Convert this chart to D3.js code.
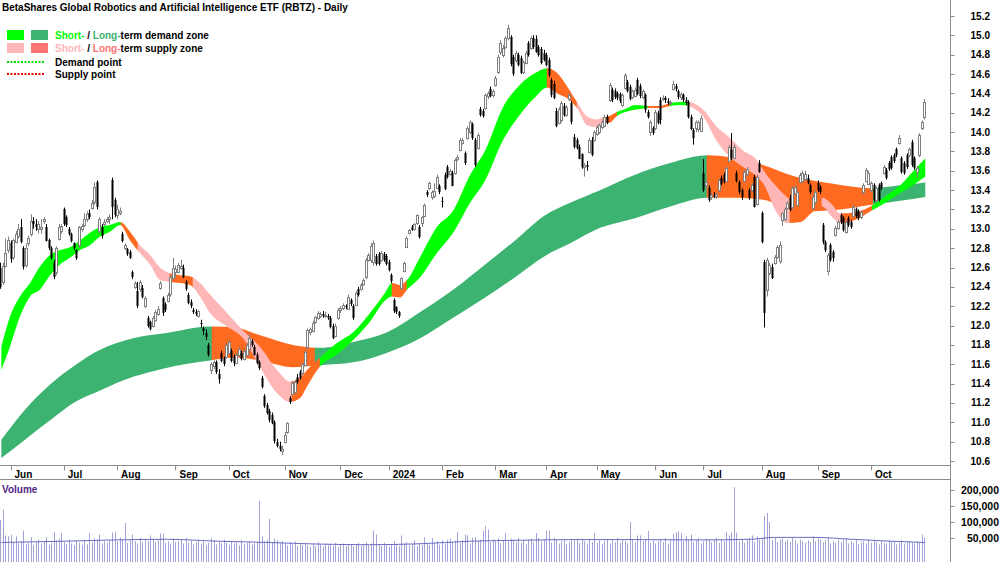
<!DOCTYPE html>
<html>
<head>
<meta charset="utf-8">
<title>RBTZ - Daily</title>
<script src="https://cdn.jsdelivr.net/npm/d3@7"></script>
<style>
  body { margin: 0; background: #fff; }
  svg text { font-family: "Liberation Sans", Arial, sans-serif; }
</style>
</head>
<body>
<div id="chart"></div>
<script>
// ---- data ----
// trading calendar (ASX)
const firstDay = "2023-05-26";
const asxHolidays = ["2023-06-12", "2023-12-25", "2023-12-26", "2024-01-01", "2024-01-26",
  "2024-03-29", "2024-04-01", "2024-04-25", "2024-06-10"];

// daily candles [open, high, low, close]
const candles = [
  [12.60,12.65,12.38,12.40],[12.45,12.65,12.42,12.62],[12.62,12.90,12.60,12.75],[12.78,12.92,12.75,12.88],[12.85,12.88,12.65,12.68],
  [12.70,12.90,12.68,12.88],[12.87,12.98,12.85,12.95],[12.93,13.05,12.90,13.00],[13.02,13.10,12.85,12.87],[12.80,12.82,12.58,12.60],
  [12.62,12.85,12.60,12.80],[12.85,12.93,12.82,12.90],[12.95,13.15,12.92,13.08],[13.08,13.12,13.00,13.05],[13.05,13.10,12.98,13.02],
  [13.00,13.08,12.95,13.05],[13.00,13.10,12.95,13.02],[13.08,13.12,13.05,13.10],[13.02,13.05,12.87,12.88],[12.88,12.90,12.78,12.80],
  [12.80,12.82,12.68,12.70],[12.66,12.68,12.48,12.50],[12.55,12.82,12.52,12.80],[12.90,13.05,12.88,13.02],[12.98,13.05,12.95,13.03],
  [13.20,13.22,13.03,13.05],[13.12,13.14,13.02,13.04],[13.00,13.02,12.93,12.95],[12.95,12.96,12.86,12.88],[12.85,12.86,12.78,12.80],
  [12.78,12.79,12.68,12.70],[12.83,13.03,12.80,13.02],[13.00,13.05,12.97,13.03],[13.04,13.16,13.02,13.10],[13.10,13.18,13.07,13.15],
  [13.16,13.20,13.10,13.12],[13.22,13.30,13.20,13.27],[13.27,13.48,13.25,13.43],[13.48,13.50,13.20,13.22],[12.98,13.12,12.95,13.10],
  [13.02,13.05,12.90,12.93],[13.05,13.10,13.03,13.07],[13.08,13.12,13.06,13.10],[13.10,13.15,13.05,13.12],[13.50,13.53,13.10,13.22],
  [13.30,13.32,13.12,13.15],[13.14,13.25,13.10,13.20],[13.16,13.22,13.14,13.18],[12.95,12.97,12.86,12.88],[12.80,12.85,12.78,12.83],
  [12.79,12.80,12.72,12.74],[12.76,12.78,12.69,12.70],[12.55,12.57,12.48,12.50],[12.40,12.46,12.38,12.44],[12.36,12.45,12.18,12.20],
  [12.38,12.47,12.35,12.45],[12.39,12.42,12.28,12.30],[12.20,12.30,12.18,12.28],[12.08,12.10,11.98,12.00],[12.04,12.05,11.95,11.97],
  [12.00,12.10,11.98,12.08],[12.06,12.16,12.04,12.14],[12.12,12.20,12.10,12.17],[12.39,12.46,12.37,12.44],[12.28,12.30,12.10,12.12],
  [12.22,12.24,12.14,12.16],[12.26,12.34,12.24,12.32],[12.32,12.52,12.30,12.50],[12.50,12.70,12.48,12.60],[12.55,12.62,12.50,12.58],
  [12.56,12.65,12.54,12.63],[12.60,12.68,12.58,12.62],[12.60,12.63,12.49,12.51],[12.45,12.47,12.36,12.38],[12.32,12.34,12.22,12.24],
  [12.24,12.27,12.18,12.20],[12.16,12.18,12.12,12.14],[12.14,12.17,12.10,12.12],[12.10,12.16,12.08,12.15],[12.03,12.06,11.98,12.02],
  [11.97,11.99,11.90,11.94],[11.92,11.96,11.85,11.88],[11.80,11.82,11.68,11.70],[11.54,11.62,11.50,11.60],[11.58,11.64,11.55,11.62],
  [11.62,11.64,11.50,11.52],[11.50,11.55,11.40,11.45],[11.72,11.74,11.62,11.64],[11.66,11.68,11.58,11.60],[11.68,11.82,11.66,11.80],
  [11.72,11.85,11.70,11.83],[11.74,11.76,11.62,11.64],[11.67,11.70,11.58,11.61],[11.62,11.72,11.60,11.70],[11.70,11.78,11.68,11.76],
  [11.72,11.74,11.64,11.66],[11.66,11.76,11.64,11.74],[11.70,11.82,11.68,11.80],[11.76,11.92,11.74,11.87],[11.84,11.86,11.78,11.80],
  [11.78,11.80,11.69,11.70],[11.70,11.72,11.60,11.62],[11.62,11.64,11.54,11.56],[11.46,11.48,11.35,11.37],[11.27,11.29,11.15,11.17],
  [11.18,11.20,11.08,11.10],[11.12,11.14,11.00,11.03],[11.08,11.10,10.98,11.00],[11.00,11.02,10.78,10.80],[10.80,10.83,10.74,10.76],
  [10.76,10.80,10.70,10.73],[10.70,10.76,10.66,10.72],[10.80,10.90,10.78,10.87],[10.90,11.00,10.88,10.99],[11.25,11.27,11.19,11.21],
  [11.30,11.43,11.28,11.41],[11.32,11.44,11.30,11.42],[11.47,11.50,11.40,11.42],[11.52,11.54,11.44,11.46],[11.51,11.62,11.49,11.60],
  [11.60,11.75,11.58,11.73],[11.77,11.97,11.75,11.95],[11.93,11.98,11.90,11.96],[11.95,12.05,11.93,12.03],[12.04,12.10,12.02,12.09],
  [12.08,12.15,12.06,12.13],[12.10,12.14,12.08,12.12],[12.12,12.15,12.08,12.10],[12.10,12.14,12.08,12.11],[12.10,12.12,12.06,12.08],
  [12.08,12.10,11.97,11.99],[12.00,12.02,11.86,11.88],[11.90,12.02,11.88,12.00],[12.08,12.18,12.06,12.16],[12.16,12.20,12.13,12.18],
  [12.18,12.23,12.16,12.21],[12.20,12.22,12.17,12.19],[12.18,12.32,12.16,12.30],[12.26,12.28,12.20,12.22],[12.20,12.22,12.06,12.08],
  [12.22,12.36,12.20,12.34],[12.38,12.40,12.30,12.32],[12.38,12.44,12.36,12.42],[12.43,12.49,12.41,12.47],[12.50,12.70,12.48,12.68],
  [12.68,12.75,12.66,12.73],[12.68,12.85,12.65,12.82],[12.65,12.88,12.62,12.85],[12.72,12.74,12.62,12.64],[12.74,12.76,12.62,12.64],
  [12.68,12.77,12.66,12.75],[12.74,12.76,12.66,12.68],[12.72,12.74,12.62,12.64],[12.66,12.68,12.56,12.58],[12.52,12.54,12.44,12.46],
  [12.26,12.28,12.13,12.15],[12.19,12.20,12.12,12.14],[12.14,12.15,12.08,12.10],[12.39,12.50,12.37,12.49],[12.57,12.66,12.55,12.65],
  [12.81,12.92,12.80,12.90],[12.96,13.00,12.94,12.99],[13.02,13.04,12.98,12.99],[13.00,13.06,12.98,13.05],[13.06,13.15,13.04,13.14],
  [13.02,13.04,12.90,12.92],[13.06,13.13,13.02,13.12],[13.14,13.26,13.12,13.25],[13.38,13.40,13.33,13.35],[13.42,13.49,13.40,13.47],
  [13.33,13.40,13.30,13.38],[13.34,13.47,13.32,13.39],[13.43,13.56,13.41,13.54],[13.44,13.46,13.36,13.38],[13.29,13.33,13.22,13.28],
  [13.56,13.58,13.40,13.42],[13.64,13.66,13.52,13.54],[13.57,13.62,13.55,13.60],[13.58,13.60,13.44,13.45],[13.58,13.73,13.56,13.71],
  [13.72,13.76,13.70,13.74],[13.82,13.94,13.80,13.92],[13.89,13.94,13.87,13.92],[13.78,13.80,13.66,13.68],[13.94,14.06,13.92,14.04],
  [14.00,14.12,13.98,14.10],[14.08,14.10,13.92,13.94],[13.92,13.94,13.64,13.66],[13.84,13.99,13.82,13.97],[14.24,14.26,14.16,14.18],
  [14.22,14.24,14.15,14.17],[14.25,14.40,14.23,14.38],[14.37,14.42,14.34,14.40],[14.45,14.47,14.36,14.38],[14.38,14.44,14.36,14.42],
  [14.49,14.58,14.47,14.56],[14.62,14.80,14.60,14.78],[14.83,14.95,14.80,14.92],[14.80,14.90,14.77,14.87],[14.88,14.99,14.86,14.97],
  [14.98,15.11,14.95,15.08],[14.98,15.00,14.68,14.70],[14.78,14.80,14.58,14.60],[14.75,14.84,14.72,14.82],[14.80,14.82,14.68,14.70],
  [14.77,14.79,14.60,14.61],[14.62,14.74,14.60,14.72],[14.72,14.84,14.70,14.82],[14.92,14.94,14.78,14.80],[14.87,14.99,14.85,14.97],
  [14.97,15.00,14.86,14.88],[14.96,15.00,14.82,14.83],[14.88,14.90,14.78,14.80],[14.86,14.88,14.70,14.72],[14.82,14.85,14.73,14.75],
  [14.80,14.82,14.68,14.70],[14.75,14.77,14.57,14.59],[14.54,14.56,14.36,14.38],[14.50,14.53,14.34,14.36],[14.22,14.25,14.05,14.07],
  [14.10,14.26,14.08,14.24],[14.12,14.32,14.10,14.30],[14.27,14.30,14.16,14.18],[14.18,14.28,14.16,14.26],[14.34,14.40,14.32,14.38],
  [14.30,14.32,14.08,14.10],[13.95,13.98,13.83,13.85],[13.92,13.94,13.82,13.84],[13.85,13.87,13.72,13.73],[13.77,13.78,13.62,13.64],
  [13.64,13.68,13.54,13.66],[13.66,13.70,13.60,13.64],[13.80,13.94,13.78,13.92],[13.92,13.95,13.75,13.77],[13.92,14.02,13.90,14.00],
  [13.98,14.07,13.96,14.05],[14.00,14.09,13.98,14.07],[14.05,14.12,14.03,14.10],[14.07,14.18,14.05,14.16],[14.16,14.18,14.08,14.10],
  [14.33,14.51,14.31,14.49],[14.43,14.46,14.31,14.33],[14.42,14.45,14.34,14.36],[14.40,14.42,14.33,14.35],[14.39,14.41,14.30,14.32],
  [14.28,14.40,14.26,14.38],[14.46,14.61,14.44,14.59],[14.52,14.54,14.41,14.43],[14.47,14.49,14.33,14.35],[14.36,14.44,14.34,14.42],
  [14.38,14.46,14.36,14.44],[14.54,14.56,14.38,14.40],[14.48,14.50,14.35,14.38],[14.36,14.44,14.34,14.42],[14.38,14.40,14.20,14.22],
  [14.21,14.23,14.14,14.16],[14.00,14.12,13.96,14.10],[14.04,14.06,13.97,13.99],[14.04,14.23,14.02,14.21],[14.20,14.22,14.08,14.10],
  [14.33,14.36,14.08,14.12],[14.34,14.38,14.32,14.35],[14.35,14.37,14.30,14.33],[14.32,14.35,14.28,14.30],[14.30,14.33,14.28,14.31],
  [14.45,14.53,14.43,14.50],[14.48,14.50,14.42,14.45],[14.42,14.44,14.34,14.36],[14.36,14.41,14.33,14.39],[14.38,14.40,14.31,14.33],
  [14.33,14.36,14.28,14.30],[14.31,14.33,14.14,14.16],[14.16,14.18,14.02,14.04],[14.02,14.04,13.87,13.94],[14.04,14.12,14.00,14.10],
  [14.03,14.12,14.00,14.10],[14.02,14.17,14.00,14.15],[13.58,13.72,13.38,13.40],[13.45,13.50,13.42,13.48],[13.43,13.45,13.28,13.30],
  [13.33,13.37,13.30,13.35],[13.35,13.38,13.32,13.34],[13.34,13.37,13.31,13.36],[13.40,13.52,13.38,13.50],[13.53,13.55,13.45,13.47],
  [13.56,13.58,13.47,13.49],[13.50,13.65,13.48,13.63],[13.71,13.87,13.69,13.85],[13.81,13.99,13.71,13.73],[13.74,13.87,13.72,13.85],
  [13.58,13.60,13.48,13.50],[13.48,13.50,13.36,13.38],[13.40,13.42,13.30,13.33],[13.50,13.61,13.48,13.59],[13.57,13.64,13.55,13.62],
  [13.40,13.42,13.30,13.32],[13.40,13.47,13.38,13.45],[13.54,13.56,13.22,13.23],[13.26,13.56,13.24,13.54],[13.68,13.71,13.58,13.59],
  [13.16,13.18,12.85,12.86],[12.66,12.68,11.98,12.13],[12.37,12.70,12.30,12.68],[12.55,12.65,12.52,12.63],[12.61,12.64,12.48,12.50],
  [12.65,12.73,12.63,12.71],[12.71,12.83,12.69,12.81],[12.66,12.87,12.64,12.83],[13.09,13.17,13.03,13.16],[13.10,13.22,13.08,13.20],
  [13.22,13.29,13.20,13.27],[13.32,13.35,13.18,13.20],[13.22,13.44,13.20,13.42],[13.37,13.45,13.35,13.43],[13.25,13.40,13.23,13.38],
  [13.49,13.58,13.47,13.56],[13.50,13.60,13.48,13.58],[13.52,13.60,13.50,13.57],[13.53,13.56,13.46,13.48],[13.45,13.47,13.36,13.38],
  [13.22,13.35,13.20,13.33],[13.28,13.40,13.26,13.38],[13.47,13.50,13.38,13.40],[13.43,13.45,13.36,13.38],[13.04,13.06,12.84,12.86],
  [12.86,12.88,12.76,12.78],[12.56,12.75,12.52,12.73],[12.83,12.85,12.66,12.68],[12.76,12.78,12.66,12.70],[12.94,13.03,12.92,13.01],
  [13.01,13.09,12.99,13.07],[13.14,13.16,13.05,13.07],[13.11,13.13,12.97,12.99],[12.97,13.09,12.95,13.07],[13.11,13.13,13.02,13.04],
  [13.07,13.09,13.00,13.02],[13.14,13.25,13.12,13.23],[13.20,13.22,13.11,13.13],[13.18,13.20,13.09,13.11],[13.12,13.19,13.10,13.17],
  [13.38,13.47,13.36,13.45],[13.50,13.63,13.48,13.61],[13.47,13.60,13.45,13.58],[13.40,13.49,13.38,13.47],[13.45,13.47,13.28,13.30],
  [13.30,13.44,13.28,13.42],[13.45,13.47,13.28,13.30],[13.47,13.49,13.40,13.42],[13.58,13.66,13.56,13.64],[13.61,13.63,13.51,13.53],
  [13.68,13.70,13.60,13.62],[13.74,13.76,13.61,13.63],[13.76,13.78,13.68,13.70],[13.82,13.84,13.74,13.76],[13.89,13.97,13.87,13.94],
  [13.73,13.75,13.57,13.59],[13.68,13.70,13.56,13.58],[13.76,13.78,13.62,13.64],[13.76,13.84,13.74,13.82],[13.90,13.92,13.64,13.66],
  [13.73,13.75,13.61,13.63],[13.59,13.65,13.52,13.63],[13.76,13.99,13.74,13.97],[14.04,14.12,14.02,14.10],[14.15,14.34,14.13,14.31]
];

// daily volume, thousands of units
const volumes = [
  107,138,58,56,60,37,55,33,40,73,  30,35,52,27,37,45,33,40,52,29,
  35,69,43,48,66,37,30,45,33,27,    40,35,29,43,31,66,37,49,45,61,
  33,40,35,43,67,69,40,52,45,97,    35,43,61,40,33,50,37,45,41,58,
  48,37,43,64,64,35,40,33,48,37,    40,45,33,50,35,43,30,37,45,33,
  40,27,35,50,43,30,37,33,45,35,    29,40,33,37,27,43,31,35,40,29,
  33,37,166,55,40,45,110,37,48,43,  35,40,33,27,37,30,40,25,33,29,
  35,27,23,31,25,37,29,24,33,27,    30,25,35,23,29,33,25,27,31,24,
  29,35,25,30,37,27,33,73,61,30,    25,35,27,23,31,40,29,25,58,33,
  37,27,31,43,25,35,29,52,33,27,    50,35,40,29,43,33,45,48,37,41,
  68,35,43,61,58,33,50,53,40,45,    72,87,76,37,45,40,50,33,43,66,
  40,48,45,37,50,35,43,30,45,48,    37,66,50,40,45,73,73,35,50,43,
  33,40,45,30,37,48,43,48,35,48,    40,33,45,37,66,35,43,30,40,45,
  33,43,37,50,35,45,40,33,100,43,   37,58,58,40,45,72,35,43,33,40,
  45,37,50,33,43,63,68,70,66,40,    55,45,61,37,43,50,33,40,48,45,
  37,43,50,35,45,40,69,58,67,209,   67,40,45,35,43,50,58,37,55,45,
  50,119,128,100,43,50,37,45,48,40, 45,37,50,43,33,45,40,35,43,37,
  55,40,48,45,37,43,50,33,40,35,    43,37,45,50,33,40,35,43,30,37,
  40,33,45,35,45,37,30,40,35,33,    43,37,40,30,35,43,33,37,40,35,
  33,40,35,61,50
];

// volume moving average [day index, thousands]
const volumeAvg = [[0,36],[25,40],[45,44],[65,46],[85,40],[105,36],[125,31],[145,29],[165,32],[185,40],
  [205,43],[225,45],[250,45],[275,44],[295,46],[305,52],[320,52],[335,46],[350,40],[364,36]];

// zone ribbons [day index, upper, lower]
const shortRibbon = [
  [0,11.78,11.54],[3.4,12.09,11.78],[7.3,12.30,12.09],[11.3,12.44,12.30],[15.2,12.61,12.37],[19.2,12.73,12.52],
  [23.1,12.78,12.63],[27,12.81,12.70],[31,12.88,12.78],[34.9,12.96,12.83],[38.9,13.02,12.92],[42.8,13.04,12.97],
  [46.8,13.07,13.04],[50.7,12.97,12.88],[54.6,12.83,12.75],[58.6,12.73,12.63],[62.5,12.60,12.47],[66.4,12.54,12.45],
  [70.4,12.52,12.44],[74.3,12.51,12.42],[78.3,12.44,12.30],[82.2,12.32,12.13],[88.9,12.13,11.99],[95.2,11.95,11.87],
  [101.9,11.78,11.57],[108.6,11.54,11.30],[113.7,11.42,11.21],[117.7,11.46,11.25],[120.4,11.54,11.37],[125.6,11.67,11.58],
  [132.2,11.82,11.70],[138.6,11.93,11.85],[145.2,12.13,12.04],[151.2,12.34,12.26],[153.9,12.44,12.30],[157.1,12.42,12.29],
  [159.8,12.47,12.37],[165,12.71,12.50],[171.6,13.02,12.75],[178,13.19,12.96],[184.7,13.56,13.27],[190.6,13.81,13.50],
  [197.7,14.26,13.92],[204.3,14.49,14.18],[210.3,14.61,14.36],[215,14.66,14.46],[219,14.61,14.40],[222.9,14.47,14.35],
  [226.8,14.31,14.25],[230.8,14.16,14.07],[234.7,14.13,14.05],[237.1,14.15,14.09],[239.8,14.17,14.10],[242.6,14.21,14.17],
  [245,14.23,14.20],[249.7,14.28,14.23],[254.8,14.27,14.25],[259.5,14.27,14.25],[263.5,14.30,14.27],[267.4,14.31,14.28],
  [270.6,14.31,14.27],[276.5,14.23,14.16],[282,14.05,13.90],[287.1,13.94,13.74],[292.2,13.81,13.64],[297.7,13.71,13.54],
  [300.1,13.61,13.47],[305.6,13.43,13.16],[309.5,13.33,13.06],[314.7,13.27,13.07],[319.4,13.30,13.17],[323.3,13.32,13.23],
  [327.3,13.25,13.12],[330.4,13.16,13.06],[336.3,13.17,13.09],[342.3,13.23,13.18],[348.9,13.35,13.28],[354.1,13.45,13.37],
  [358,13.56,13.43],[364,13.73,13.54]
];
const longRibbon = [
  [0,10.82,10.63],[9.3,11.13,10.82],[19.2,11.39,11.02],[29,11.59,11.21],[38.9,11.75,11.33],[51.9,11.87,11.47],
  [64.5,11.92,11.56],[82.2,11.99,11.64],[92.1,11.98,11.67],[101.9,11.90,11.64],[114.9,11.80,11.57],[125.6,11.77,11.59],
  [138.6,11.83,11.62],[152,11.93,11.72],[165,12.14,11.87],[178,12.37,12.08],[190.6,12.63,12.29],[202.4,12.88,12.50],
  [214.2,13.14,12.72],[224.1,13.27,12.85],[235.9,13.40,13.01],[249.7,13.56,13.11],[263.5,13.68,13.23],[278.4,13.76,13.32],
  [287.1,13.74,13.32],[300.1,13.66,13.30],[312.7,13.54,13.18],[326.5,13.47,13.19],[343,13.42,13.25],[354.1,13.45,13.29],
  [364,13.48,13.33]
];

// zone state by day range [from, to, state]
const shortZones = [[0,47.1,"demand"],[47.1,53.8,"turn"],[53.8,66.4,"supply"],[66.4,75.5,"turn"],[75.5,114.5,"supply"],
  [114.5,125.6,"turn"],[125.6,153.9,"demand"],[153.9,159.8,"turn"],[159.8,215,"demand"],[215,226.8,"turn"],
  [226.8,237,"supply"],[237,242.6,"turn"],[242.6,254.8,"demand"],[254.8,263.5,"turn"],[263.5,270.5,"demand"],
  [270.5,310.7,"supply"],[310.7,323.3,"turn"],[323.3,331.2,"supply"],[331.2,343.1,"turn"],[343.1,364,"demand"]];
const longZones = [[0,83,"demand"],[83,123.6,"supply"],[123.6,278,"demand"],[278,343.5,"supply"],[343.5,364,"demand"]];

const volumeTicks = [50000, 100000, 150000, 200000];

// ---- layout ----
const width = 1000, height = 562;
const axisX = 950.5;
const priceBottom = 465.5, volTop = 479.5;

const shortColors = { demand: "#00ff00", supply: "#ffb6b6", turn: "#ff6a21" };
const longColors = { demand: "#3cb371", supply: "#ff6a21" };

// trading days
const parseDay = d3.timeParse("%Y-%m-%d");
const fmtDay = d3.timeFormat("%Y-%m-%d");
const days = [];
let cur = parseDay(firstDay);
while (days.length < candles.length) {
  const wd = cur.getDay();
  if (wd !== 0 && wd !== 6 && !asxHolidays.includes(fmtDay(cur))) days.push(cur);
  cur = d3.timeDay.offset(cur, 1);
}

const x = d3.scaleLinear().domain([0, candles.length - 1]).range([1.35, 1.35 + (candles.length - 1) * 2.5383]);
const y = d3.scaleLinear().domain([10.6, 15.2]).range([461, 16]);
const yVol = d3.scaleLinear().domain([-25000, 200000]).range([562, 490]);

const svg = d3.select("#chart").append("svg")
  .attr("width", width)
  .attr("height", height);
const defs = svg.append("defs");

// ---- zones ----
const ribbonArea = d3.area()
  .x(d => x(d[0]))
  .y0(d => y(d[2]))
  .y1(d => y(d[1]))
  .curve(d3.curveMonotoneX);

function drawRibbon(rows, zones, colors, name) {
  const g = svg.append("g").attr("class", name);
  zones.forEach((z, k) => {
    const id = name + "-clip-" + k;
    const x0 = k === 0 ? 0 : x(z[0]) - 0.3;
    const x1 = k === zones.length - 1 ? axisX : x(z[1]) + 0.3;
    defs.append("clipPath").attr("id", id)
      .append("rect")
      .attr("x", x0).attr("y", 0)
      .attr("width", x1 - x0).attr("height", priceBottom);
    g.append("path")
      .datum(rows)
      .attr("d", ribbonArea)
      .attr("fill", colors[z[2]])
      .attr("clip-path", `url(#${id})`);
  });
}
drawRibbon(longRibbon, longZones, longColors, "long");
drawRibbon(shortRibbon, shortZones, shortColors, "short");

// ---- candles ----
const cg = svg.append("g").attr("class", "candles");
candles.forEach((d, i) => {
  const [o, h, l, c] = d;
  const up = c >= o;
  const px = Math.round(x(i));
  cg.append("line")
    .attr("x1", px - 0.5).attr("x2", px - 0.5)
    .attr("y1", y(h)).attr("y2", y(l))
    .attr("stroke", up ? "#808080" : "#000")
    .attr("stroke-width", 1);
  const top = y(Math.max(o, c)), bot = y(Math.min(o, c));
  if (up) {
    cg.append("rect")
      .attr("x", px - 1.5).attr("y", Math.round(top) + 0.5)
      .attr("width", 2).attr("height", Math.max(1, Math.round(bot - top)))
      .attr("fill", "#fff").attr("stroke", "#808080").attr("stroke-width", 1);
  } else {
    cg.append("rect")
      .attr("x", px - 1.5).attr("y", Math.round(top))
      .attr("width", 2).attr("height", Math.max(1, Math.round(bot - top)))
      .attr("fill", "#000");
  }
});

// ---- axes and frame ----
const frame = svg.append("g").attr("stroke", "#8c8c8c").attr("stroke-width", 1);
frame.append("line").attr("x1", axisX).attr("x2", axisX).attr("y1", 0).attr("y2", height);
frame.append("line").attr("x1", 0).attr("x2", axisX).attr("y1", priceBottom).attr("y2", priceBottom);
frame.append("line").attr("x1", 0).attr("x2", axisX).attr("y1", volTop).attr("y2", volTop);

// month ticks
const monthStarts = d3.range(1, days.length).filter(i => days[i].getMonth() !== days[i - 1].getMonth());
const mg = svg.append("g");
mg.selectAll("line").data(monthStarts).join("line")
  .attr("x1", i => Math.round(x(i)) - 0.5).attr("x2", i => Math.round(x(i)) - 0.5)
  .attr("y1", priceBottom).attr("y2", priceBottom + 5)
  .attr("stroke", "#8c8c8c");
mg.selectAll("text").data(monthStarts).join("text")
  .attr("x", i => x(i) + 3).attr("y", 478)
  .attr("font-size", 10).attr("font-weight", "bold")
  .text(i => days[i].getMonth() === 0 ? d3.timeFormat("%Y")(days[i]) : d3.timeFormat("%b")(days[i]));

// price axis
const pg = svg.append("g");
const priceTicks = y.ticks(24);
pg.selectAll("line").data(priceTicks).join("line")
  .attr("x1", axisX).attr("x2", axisX + 4)
  .attr("y1", v => Math.round(y(v)) + 0.5).attr("y2", v => Math.round(y(v)) + 0.5)
  .attr("stroke", "#8c8c8c");
pg.selectAll("text").data(priceTicks).join("text")
  .attr("x", 990).attr("y", v => y(v)).attr("dy", "0.35em")
  .attr("text-anchor", "end")
  .attr("font-size", 10).attr("font-weight", "bold")
  .text(d3.format(".1f"));

// ---- volume ----
const vg = svg.append("g");
vg.selectAll("line").data(volumes).join("line")
  .attr("x1", (v, i) => Math.round(x(i)) - 0.5).attr("x2", (v, i) => Math.round(x(i)) - 0.5)
  .attr("y1", height).attr("y2", v => yVol(v * 1000))
  .attr("stroke", "#a3a3dc").attr("stroke-width", 1);

svg.append("path")
  .datum(volumeAvg)
  .attr("d", d3.line().x(d => x(d[0])).y(d => yVol(d[1] * 1000)).curve(d3.curveMonotoneX))
  .attr("fill", "none").attr("stroke", "#6b6bc4").attr("stroke-width", 1);

const vt = svg.append("g");
vt.selectAll("line").data(volumeTicks).join("line")
  .attr("x1", axisX).attr("x2", axisX + 4)
  .attr("y1", v => Math.round(yVol(v)) + 0.5).attr("y2", v => Math.round(yVol(v)) + 0.5)
  .attr("stroke", "#8c8c8c");
vt.selectAll("text").data(volumeTicks).join("text")
  .attr("x", 999).attr("y", v => yVol(v)).attr("dy", "0.35em")
  .attr("text-anchor", "end")
  .attr("font-size", 10.5).attr("font-weight", "bold")
  .text(d3.format(","));

svg.append("text").attr("x", 2).attr("y", 493)
  .attr("font-size", 10).attr("font-weight", "bold").attr("fill", "#4f2587")
  .text("Volume");

// ---- title & legend ----
svg.append("text").attr("x", 2).attr("y", 11)
  .attr("font-size", 10).attr("font-weight", "bold")
  .text("BetaShares Global Robotics and Artificial Intelligence ETF (RBTZ) - Daily");

const legend = svg.append("g");
const swatchRows = [
  { y: 30, a: "#00ff00", b: "#3cb371", label: "term demand zone" },
  { y: 43, a: "#ffb6b6", b: "#ff7373", label: "term supply zone" }
];
swatchRows.forEach(r => {
  legend.append("rect").attr("x", 7).attr("y", r.y).attr("width", 17).attr("height", 10).attr("fill", r.a);
  legend.append("rect").attr("x", 31).attr("y", r.y).attr("width", 17).attr("height", 10).attr("fill", r.b);
  const t = legend.append("text").attr("x", 55).attr("y", r.y + 9)
    .attr("font-size", 10).attr("font-weight", "bold");
  t.append("tspan").attr("fill", r.a).text("Short-");
  t.append("tspan").attr("fill", "#000").text(" / ");
  t.append("tspan").attr("fill", r.b).text("Long-");
  t.append("tspan").attr("fill", "#000").text(r.label);
});
const pointRows = [
  { y: 62, color: "#00e000", label: "Demand point" },
  { y: 74, color: "#ee0000", label: "Supply point" }
];
pointRows.forEach(r => {
  legend.append("line").attr("x1", 7).attr("x2", 45).attr("y1", r.y).attr("y2", r.y)
    .attr("stroke", r.color).attr("stroke-width", 2).attr("stroke-dasharray", "2,1.5");
  legend.append("text").attr("x", 55).attr("y", r.y + 4)
    .attr("font-size", 10).attr("font-weight", "bold")
    .text(r.label);
});
</script>
</body>
</html>
